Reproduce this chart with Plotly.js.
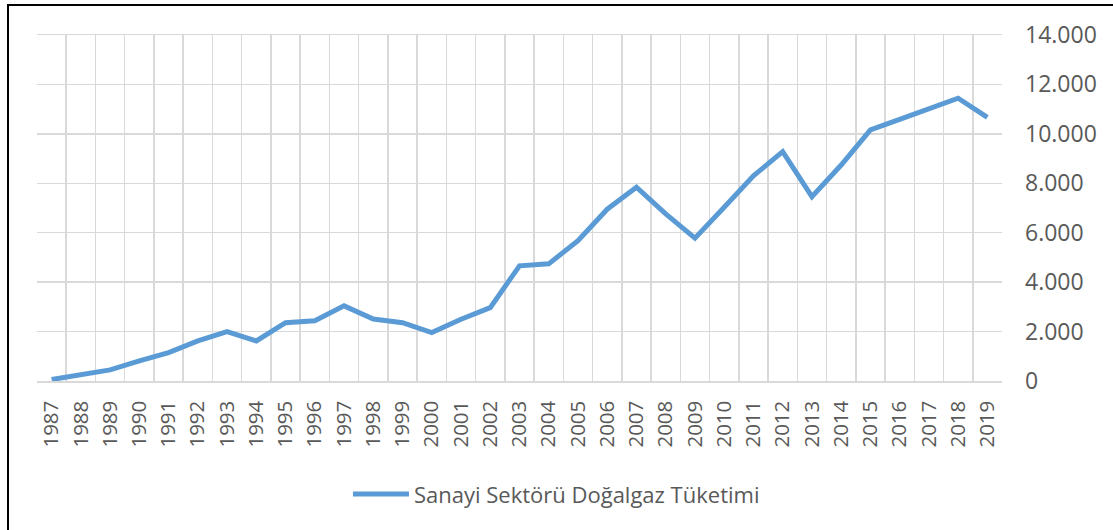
<!DOCTYPE html>
<html>
<head>
<meta charset="utf-8">
<script src="https://cdn.plot.ly/plotly-3.0.1.min.js"></script>
<style>
  html, body { margin: 0; padding: 0; background: #fff; }
  #wrap { position: relative; width: 1113px; height: 530px; }
  #chart { position: absolute; left: 0; top: 0; width: 1113px; height: 530px; }
  #frame { position: absolute; left: 7px; top: 4px; width: 1106px; height: 526px;
           border-left: 2px solid #000; border-top: 2px solid #000; pointer-events: none; box-sizing: border-box; }
</style>
</head>
<body>
<div id="wrap">
  <div id="chart"></div>
  <div id="frame"></div>
</div>
<script>
const years = ["1987","1988","1989","1990","1991","1992","1993","1994","1995","1996","1997","1998","1999","2000","2001","2002","2003","2004","2005","2006","2007","2008","2009","2010","2011","2012","2013","2014","2015","2016","2017","2018","2019"];
const consumption = [60, 240, 450, 810, 1150, 1620, 2000, 1620, 2360, 2440, 3040, 2510, 2360, 1960, 2500, 2970, 4660, 4740, 5680, 6950, 7840, 6760, 5780, 7030, 8300, 9280, 7460, 8740, 10160, 10590, 11000, 11440, 10670];
const seriesName = "Sanayi Sektörü Doğalgaz Tüketimi";
const yTickVals = [0, 2000, 4000, 6000, 8000, 10000, 12000, 14000];
const yTickText = ["0", "2.000", "4.000", "6.000", "8.000", "10.000", "12.000", "14.000"];

const trace = {
  x: years,
  y: consumption,
  type: "scatter",
  mode: "lines",
  name: seriesName,
  line: { color: "#5B9BD5", width: 5, shape: "linear" }
};

const layout = {
  width: 1113,
  height: 530,
  margin: { l: 37, r: 111, t: 35, b: 149, pad: 0 },
  paper_bgcolor: "#ffffff",
  plot_bgcolor: "#ffffff",
  font: { family: "Open Sans, sans-serif", color: "#595959" },
  showlegend: true,
  legend: {
    orientation: "h",
    x: 0.5383, xanchor: "center",
    y: -0.327, yanchor: "middle",
    font: { size: 22, color: "#595959", family: "Open Sans, sans-serif" },
    itemwidth: 56,
    bgcolor: "rgba(0,0,0,0)"
  },
  xaxis: {
    type: "category",
    range: [-0.5, 32.5],
    tickson: "boundaries",
    showgrid: true,
    gridcolor: "#D9D9D9",
    gridwidth: 1.5,
    showline: true,
    linecolor: "#D9D9D9",
    linewidth: 1.5,
    mirror: true,
    ticks: "",
    tickangle: -90,
    ticklabelstandoff: 10,
    tickfont: { size: 20.5, color: "#595959", family: "Open Sans, sans-serif" },
    fixedrange: true
  },
  yaxis: {
    side: "right",
    range: [0, 14000],
    tickvals: yTickVals,
    ticktext: yTickText,
    showgrid: true,
    gridcolor: "#D9D9D9",
    gridwidth: 1.5,
    zeroline: false,
    showline: false,
    ticks: "",
    ticklabelstandoff: 22,
    tickfont: { size: 23, color: "#595959", family: "Open Sans, sans-serif" },
    fixedrange: true
  }
};

Plotly.newPlot("chart", [trace], layout, { displayModeBar: false, staticPlot: true });
</script>
</body>
</html>
